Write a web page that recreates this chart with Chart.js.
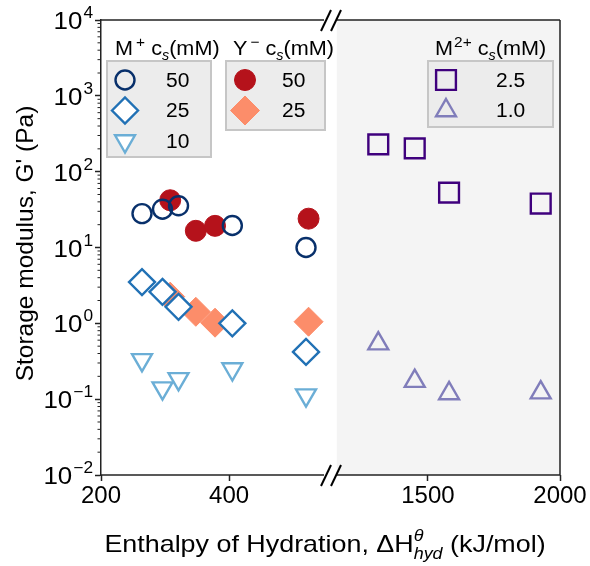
<!DOCTYPE html>
<html>
<head>
<meta charset="utf-8">
<script src="https://cdn.jsdelivr.net/npm/chart.js@4/dist/chart.umd.min.js"></script>
<style>
  html, body { margin: 0; padding: 0; background: #fff; }
  #wrap { width: 590px; height: 566px; }
</style>
</head>
<body>
<div id="wrap"><canvas id="chart" width="590" height="566"></canvas></div>
<script>
// hydration enthalpy magnitudes (kJ/mol) of each ion family
const monoCationX = [264, 296, 321, 405, 520];
const anionX = [308, 348, 378, 524];
const diCationX = [1312, 1450, 1580, 1927];

// storage modulus G' (Pa)
const monoCation50 = [28, 32, 35.5, 19.5, 10];
const monoCation25 = [3.5, 2.6, 1.65, 1.0, 0.42];
const monoCation10 = [0.33, 0.14, 0.185, 0.25, 0.113];
const anion50 = [42, 16.6, 19.3, 24];
const anion25 = [2.25, 1.42, 1.02, 1.05];
const diCation25 = [229, 203, 53, 38];
const diCation10 = [0.54, 0.173, 0.119, 0.122];

const monoLabels = ["50", "25", "10"];
const anionLabels = ["50", "25"];
const diLabels = ["2.5", "1.0"];

const leftTicks = [200, 400];
const rightTicks = [1500, 2000];
const yExponents = [-2, -1, 0, 1, 2, 3, 4];
const shadeFrom = 1155;

const FONT = '"Liberation Sans", Arial, Helvetica, sans-serif';
const WIDE = 1.12; // the reference text is drawn a little wider than Arial

const navy = "#08306b", blue = "#2171b5", lightBlue = "#6baed6";
const red = "#b5121b", salmon = "#fc8d6a", purple = "#3f007d", lavender = "#807dba";
const none = "rgba(0,0,0,0)";

// marker styles, shared by the datasets and the hand drawn legends
const sMono50 = { pointStyle: "circle", radius: 9.5, rotation: 0, fill: none, stroke: navy, bw: 2.4 };
const sMono25 = { pointStyle: "rectRot", radius: 13, rotation: 0, fill: "#fff", stroke: blue, bw: 2.4 };
const sMono10 = { pointStyle: "triangle", radius: 11.5, rotation: 180, fill: "#fff", stroke: lightBlue, bw: 2.4 };
const sAn50 = { pointStyle: "circle", radius: 10.5, rotation: 0, fill: red, stroke: red, bw: 1 };
const sAn25 = { pointStyle: "rectRot", radius: 14.5, rotation: 0, fill: salmon, stroke: salmon, bw: 1 };
const sDi25 = { pointStyle: "rect", radius: 14, rotation: 0, fill: none, stroke: purple, bw: 2.4 };
const sDi10 = { pointStyle: "triangle", radius: 11.5, rotation: 0, fill: none, stroke: lavender, bw: 2.4 };

function makeSet(label, xs, ys, axis, s) {
  return {
    label: label,
    data: xs.map((x, i) => ({ x: x, y: ys[i] })),
    xAxisID: axis,
    pointStyle: s.pointStyle,
    pointRadius: s.radius,
    pointRotation: s.rotation,
    backgroundColor: s.fill,
    borderColor: s.stroke,
    pointBorderWidth: s.bw,
    showLine: false,
  };
}

// first dataset is drawn on top
const datasets = [
  makeSet("M+ 25", monoCationX, monoCation25, "x", sMono25),
  makeSet("M+ 50", monoCationX, monoCation50, "x", sMono50),
  makeSet("Y- 50", anionX, anion50, "x", sAn50),
  makeSet("M+ 10", monoCationX, monoCation10, "x", sMono10),
  makeSet("Y- 25", anionX, anion25, "x", sAn25),
  makeSet("M2+ 2.5", diCationX, diCation25, "x2", sDi25),
  makeSet("M2+ 1.0", diCationX, diCation10, "x2", sDi10),
];

const isMajor = v => Math.abs(Math.log10(v) - Math.round(Math.log10(v))) < 1e-6;

// draws text runs (plain, raised, lowered, stacked) from x along baseline y
function runs(ctx, x, y, parts, dry) {
  let cx = x;
  parts.forEach(p => {
    if (p.sup !== undefined) {
      ctx.font = "italic " + p.size + "px " + FONT;
      const w = Math.max(ctx.measureText(p.sup).width, ctx.measureText(p.sub).width);
      if (!dry) {
        ctx.fillText(p.sup, cx, y + p.supDy);
        ctx.fillText(p.sub, cx, y + p.subDy);
      }
      cx += w;
    } else {
      ctx.font = (p.italic ? "italic " : "") + p.size + "px " + FONT;
      if (!dry) ctx.fillText(p.t, cx + (p.gap || 0), y + (p.dy || 0));
      cx += ctx.measureText(p.t).width + (p.gap || 0);
    }
  });
  return cx - x;
}

function wideRuns(ctx, x, y, parts, k) {
  ctx.save();
  ctx.translate(x, y);
  ctx.scale(k, 1);
  runs(ctx, 0, 0, parts);
  ctx.restore();
}

function line(ctx, x1, y1, x2, y2) {
  ctx.beginPath();
  ctx.moveTo(x1, y1);
  ctx.lineTo(x2, y2);
  ctx.stroke();
}

function marker(ctx, s, x, y) {
  ctx.save();
  ctx.fillStyle = s.fill;
  ctx.strokeStyle = s.stroke;
  ctx.lineWidth = s.bw;
  Chart.helpers.drawPoint(ctx, { pointStyle: s.pointStyle, radius: s.radius, rotation: s.rotation, borderWidth: s.bw }, x, y);
  ctx.restore();
}

function legend(ctx, title, box, styles, labels, markerX, labelX) {
  ctx.fillStyle = "#000";
  ctx.textBaseline = "alphabetic";
  ctx.textAlign = "left";
  wideRuns(ctx, title.x, title.y, title.parts, 1.03);
  ctx.fillStyle = "#ececec";
  ctx.fillRect(box[0], box[1], box[2], box[3]);
  ctx.strokeStyle = "#c6c6c6";
  ctx.lineWidth = 2;
  ctx.strokeRect(box[0], box[1], box[2], box[3]);
  styles.forEach((s, i) => {
    const cy = box[1] + 19 + i * 30.5;
    marker(ctx, s, markerX, cy);
    ctx.fillStyle = "#000";
    ctx.textBaseline = "middle";
    wideRuns(ctx, labelX, cy + 1, [{ t: labels[i], size: 20 }], 1.05);
  });
}

const titleParts = (head, charge, gap) => [
  { t: head, size: 21 },
  { t: charge, size: 15, dy: -8, gap: gap },
  { t: " c", size: 21 },
  { t: "s", size: 14, dy: 5, italic: true },
  { t: "(mM)", size: 21 },
];

const decor = {
  id: "decor",
  beforeDraw(chart) {
    const { ctx, chartArea: ca } = chart;
    const xs = chart.scales.x2.getPixelForValue(shadeFrom);
    ctx.save();
    ctx.fillStyle = "#f4f4f4";
    ctx.fillRect(xs, ca.top, ca.right - xs, ca.bottom - ca.top);
    ctx.restore();
  },
  afterDraw(chart) {
    const { ctx, chartArea: ca } = chart;
    const y = chart.scales.y;
    const bx = chart.scales.x.right;
    ctx.save();
    ctx.strokeStyle = "#222";
    ctx.lineWidth = 1.5;
    // frame, with a gap at the axis break
    [ca.top, ca.bottom].forEach(py => {
      line(ctx, ca.left, py, bx - 7, py);
      line(ctx, bx + 6, py, ca.right, py);
    });
    line(ctx, ca.right, ca.top, ca.right, ca.bottom);
    // minor y ticks and decade labels
    ctx.lineWidth = 1;
    y.ticks.forEach(t => {
      const py = y.getPixelForValue(t.value);
      if (!isMajor(t.value)) {
        line(ctx, ca.left - 3.5, py, ca.left, py);
        return;
      }
      const e = String(Math.round(Math.log10(t.value))).replace("-", "\u2212");
      const parts = [{ t: "10", size: 24 }, { t: e, size: 16, dy: -11, gap: 1 }];
      ctx.fillStyle = "#000";
      ctx.textAlign = "left";
      ctx.textBaseline = "alphabetic";
      const w = runs(ctx, 0, 0, parts, true) * 1.08;
      wideRuns(ctx, ca.left - 8 - w, py + 9, parts, 1.08);
    });
    // break marks
    ctx.strokeStyle = "#000";
    ctx.lineWidth = 2;
    [ca.top, ca.bottom].forEach(py => {
      [-5, 5].forEach(dx => line(ctx, bx + dx - 5, py + 11, bx + dx + 5, py - 10));
    });

    // y title
    ctx.fillStyle = "#000";
    ctx.save();
    ctx.translate(33, (ca.top + ca.bottom) / 2 - 4);
    ctx.rotate(-Math.PI / 2);
    ctx.textAlign = "center";
    ctx.textBaseline = "alphabetic";
    ctx.font = "24.5px " + FONT;
    ctx.fillText("Storage modulus, G' (Pa)", 0, 0);
    ctx.restore();

    // x title
    const xParts = [
      { t: "Enthalpy of Hydration, \u0394H", size: 24 },
      { sup: "\u03B8", sub: "hyd", size: 16, supDy: -11, subDy: 7 },
      { t: " (kJ/mol)", size: 24 },
    ];
    ctx.textAlign = "left";
    ctx.textBaseline = "alphabetic";
    const w = runs(ctx, 0, 0, xParts, true) * WIDE;
    wideRuns(ctx, 325 - w / 2, 552, xParts, WIDE);

    // legends
    legend(ctx, { x: 115, y: 55, parts: titleParts("M", "+", 3) }, [107, 61, 104, 96],
      [sMono50, sMono25, sMono10], monoLabels, 125, 166);
    legend(ctx, { x: 233, y: 55, parts: titleParts("Y", "\u2212", 3) }, [226, 61, 99, 69],
      [sAn50, sAn25], anionLabels, 245, 282);
    legend(ctx, { x: 435, y: 55, parts: titleParts("M", "2+", 1) }, [428, 61, 125, 66],
      [sDi25, sDi10], diLabels, 446, 496);
    ctx.restore();
  },
};

function xAxis(ticks, min, max, weight) {
  return {
    type: "linear",
    position: "bottom",
    stack: "bottom",
    stackWeight: weight,
    min: min,
    max: max,
    afterBuildTicks: s => { s.ticks = ticks.map(v => ({ value: v })); },
    afterFit: s => { s.height = 91; },
    border: { display: false },
    grid: { drawOnChartArea: false, drawTicks: true, tickLength: 6, tickColor: "#222", tickWidth: 1.5 },
    ticks: { color: "#000", font: { family: FONT, size: 24 }, padding: 1, maxRotation: 0, autoSkip: false,
      callback: v => String(v) },
  };
}

new Chart(document.getElementById("chart").getContext("2d"), {
  type: "scatter",
  data: { datasets: datasets },
  options: {
    responsive: false,
    animation: false,
    layout: { padding: { top: 20, right: 30, left: 0, bottom: 0 } },
    plugins: { legend: { display: false }, tooltip: { enabled: false } },
    scales: {
      x: xAxis(leftTicks, 200, 559, 230),
      x2: xAxis(rightTicks, 1133, 2000, 229),
      y: {
        type: "logarithmic",
        min: 0.01,
        max: 10000,
        afterFit: s => { s.width = 101; },
        afterBuildTicks: s => {
          const t = [];
          yExponents.forEach(e => {
            const top = e === 4 ? 1 : 9;
            for (let m = 1; m <= top; m++) t.push({ value: Number((m * Math.pow(10, e)).toPrecision(3)) });
          });
          s.ticks = t;
        },
        border: { display: true, color: "#222", width: 1.5 },
        grid: { drawOnChartArea: false, drawTicks: true, tickLength: 6, tickWidth: 1.5,
          tickColor: c => (c.tick && isMajor(c.tick.value) ? "#222" : "rgba(0,0,0,0)") },
        ticks: { display: true, autoSkip: false, callback: () => "" },
      },
    },
  },
  plugins: [decor],
});
</script>
</body>
</html>
